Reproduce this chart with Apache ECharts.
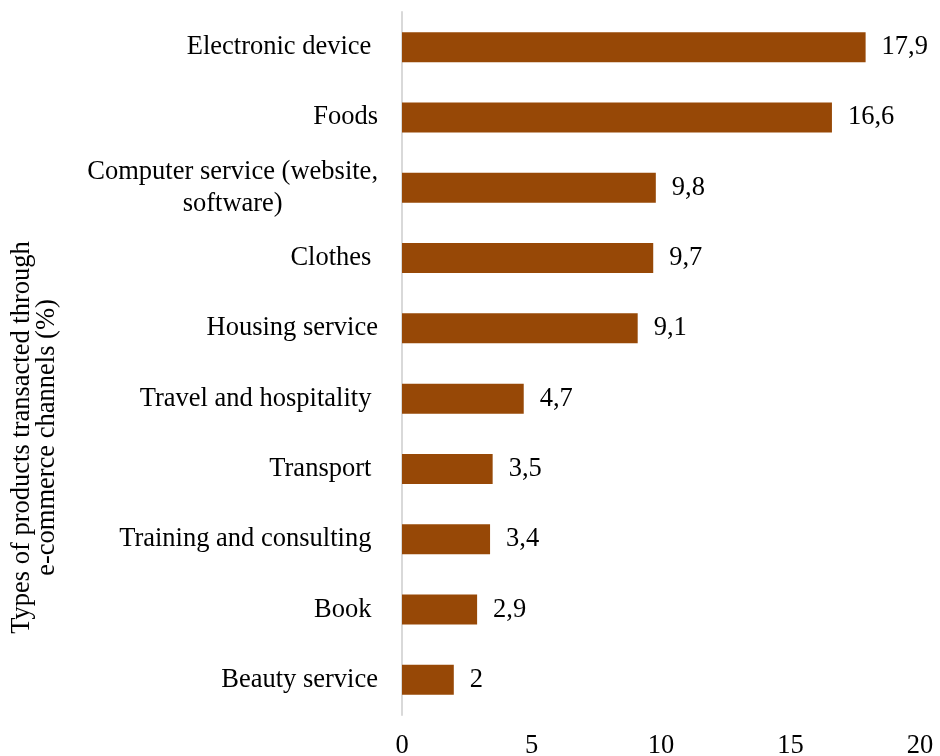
<!DOCTYPE html>
<html>
<head>
<meta charset="utf-8">
<title>Types of products transacted through e-commerce channels</title>
<script src="https://cdn.jsdelivr.net/npm/echarts@6/dist/echarts.min.js"></script>
<style>
  html, body { margin: 0; padding: 0; background: #ffffff; }
  #chart { width: 940px; height: 756px; }
</style>
</head>
<body>
<div id="chart"></div>
<script>
// Product types, listed top to bottom
const categories = [
  'Electronic device ',
  'Foods',
  'Computer service (website,\nsoftware)',
  'Clothes ',
  'Housing service',
  'Travel and hospitality ',
  'Transport ',
  'Training and consulting ',
  'Book ',
  'Beauty service'
];

// Share of transactions (%)
const shares = [17.9, 16.6, 9.8, 9.7, 9.1, 4.7, 3.5, 3.4, 2.9, 2];

// Value axis ticks
const valueTicks = [0, 5, 10, 15, 20];

const FONT = '"Liberation Serif", "Times New Roman", serif';
const FONT_SIZE = 26.5;
const TEXT_COLOR = '#000000';
const BAR_COLOR = '#974806';

const chart = echarts.init(document.getElementById('chart'), null, { renderer: 'canvas' });

chart.setOption({
  animation: false,
  backgroundColor: '#ffffff',
  grid: {
    left: 402, right: 20, top: 12, bottom: 41,
    containLabel: false,
    outerBoundsMode: 'none'
  },
  xAxis: {
    type: 'value',
    min: valueTicks[0],
    max: valueTicks[valueTicks.length - 1],
    interval: valueTicks[1] - valueTicks[0],
    axisLine: { show: false },
    axisTick: { show: false },
    splitLine: { show: false },
    axisLabel: {
      margin: 18,
      fontFamily: FONT,
      fontSize: FONT_SIZE,
      color: TEXT_COLOR
    }
  },
  yAxis: {
    type: 'category',
    data: categories,
    inverse: true,
    name: 'Types of products transacted through\ne-commerce channels (%)',
    nameLocation: 'middle',
    nameRotate: 90,
    nameGap: 342,
    nameTextStyle: {
      fontFamily: FONT,
      fontSize: FONT_SIZE,
      color: TEXT_COLOR,
      lineHeight: 25,
      align: 'center',
      padding: [0, 148, 0, 0]
    },
    axisLine: { show: true, lineStyle: { color: '#d9d9d9', width: 2 } },
    axisTick: { show: false },
    splitLine: { show: false },
    axisLabel: {
      margin: 24,
      fontFamily: FONT,
      fontSize: FONT_SIZE,
      color: TEXT_COLOR,
      lineHeight: 32,
      formatter: function (value) {
        if (value.indexOf('\n') >= 0) {
          // wrapped label: lines centred within their block
          return value.split('\n').map(function (s) { return '{c|' + s + '}'; }).join('\n');
        }
        return value;
      },
      rich: {
        c: {
          align: 'center',
          fontFamily: FONT,
          fontSize: FONT_SIZE,
          color: TEXT_COLOR,
          lineHeight: 32
        }
      }
    }
  },
  series: [{
    type: 'bar',
    data: shares,
    barWidth: 30,
    itemStyle: { color: BAR_COLOR },
    label: {
      show: true,
      position: 'right',
      distance: 16,
      fontFamily: FONT,
      fontSize: FONT_SIZE,
      color: TEXT_COLOR,
      formatter: function (p) { return String(p.value).replace('.', ','); }
    }
  }]
});
</script>
</body>
</html>
